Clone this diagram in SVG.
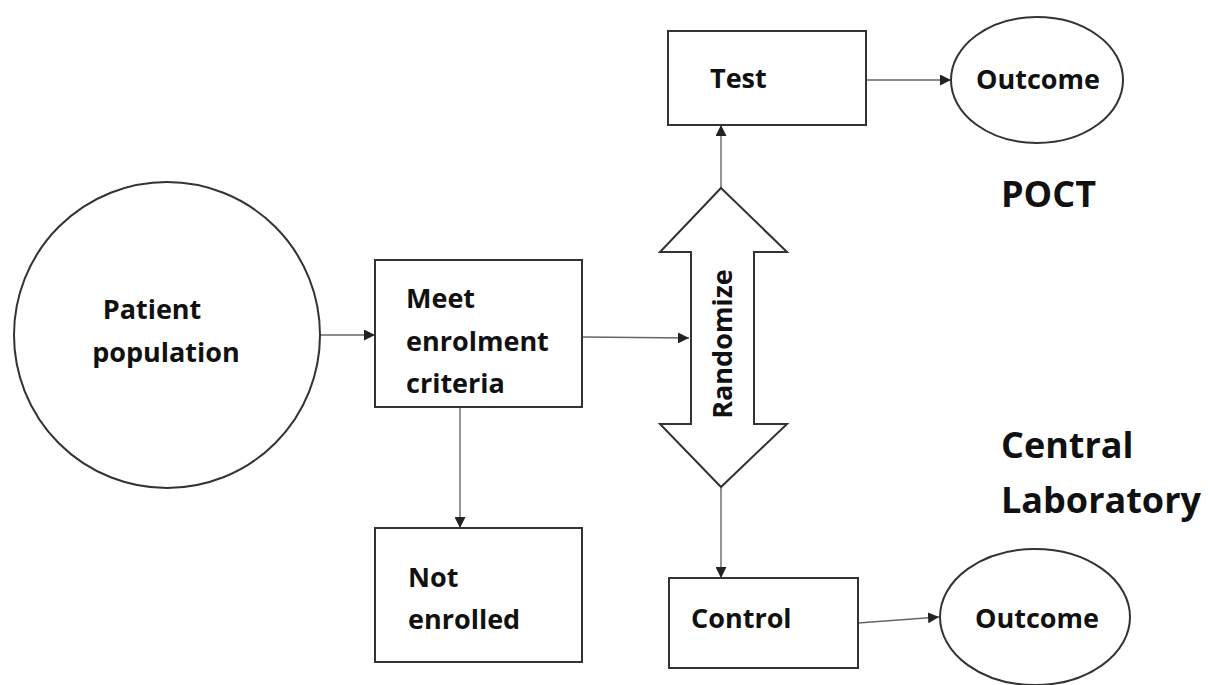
<svg xmlns="http://www.w3.org/2000/svg" width="1210" height="685" viewBox="0 0 1210 685">
  <defs>
    <marker id="arrow" viewBox="0 0 10 10" refX="10" refY="5" markerWidth="11" markerHeight="11" markerUnits="userSpaceOnUse" orient="auto">
      <path d="M0,0 L10,5 L0,10 z" fill="#222"/>
    </marker>
    <style>
      .shape { fill: #fff; stroke: #333; stroke-width: 2; }
      .conn { fill: none; stroke: #666; stroke-width: 1.4; marker-end: url(#arrow); }
      .lbl { font-family: "Open Sans", Lato, sans-serif; font-weight: 700; font-size: 27px; fill: #111; }
      .big { font-family: "Open Sans", Lato, sans-serif; font-weight: 700; font-size: 36px; fill: #111; }
    </style>
  </defs>
  <rect width="1210" height="685" fill="#fff"/>

  <g id="connectors">
    <line class="conn" x1="320" y1="335" x2="375" y2="335"/>
    <line class="conn" x1="582" y1="337" x2="689" y2="338"/>
    <line class="conn" x1="460" y1="407" x2="460" y2="528"/>
    <line class="conn" x1="721" y1="188" x2="721" y2="125"/>
    <line class="conn" x1="721" y1="487" x2="721" y2="578"/>
    <line class="conn" x1="866" y1="80" x2="951" y2="80"/>
    <line class="conn" x1="858" y1="623" x2="939" y2="617"/>
  </g>

  <g id="patient-population">
    <circle class="shape" cx="167" cy="335" r="153"/>
    <text class="lbl" x="152" y="319" text-anchor="middle">Patient</text>
    <text class="lbl" x="166" y="362" text-anchor="middle">population</text>
  </g>

  <g id="meet-criteria">
    <rect class="shape" x="375" y="260" width="207" height="147"/>
    <text class="lbl" x="406" y="308">Meet</text>
    <text class="lbl" x="406" y="351">enrolment</text>
    <text class="lbl" x="406" y="393">criteria</text>
  </g>

  <g id="randomize">
    <path class="shape" d="M721,188 L787,252 L754,252 L754,424 L787,424 L721,487 L660,424 L691,424 L691,252 L660,252 Z"/>
    <text class="lbl" transform="translate(732,344) rotate(-90)" text-anchor="middle">Randomize</text>
  </g>

  <g id="test">
    <rect class="shape" x="668" y="31" width="198" height="94"/>
    <text class="lbl" x="710" y="88">Test</text>
  </g>

  <g id="outcome-test">
    <ellipse class="shape" cx="1037" cy="80" rx="86" ry="63"/>
    <text class="lbl" x="1038" y="89" text-anchor="middle">Outcome</text>
  </g>

  <g id="not-enrolled">
    <rect class="shape" x="375" y="528" width="207" height="134"/>
    <text class="lbl" x="408" y="587">Not</text>
    <text class="lbl" x="408" y="629">enrolled</text>
  </g>

  <g id="control">
    <rect class="shape" x="669" y="578" width="189" height="90"/>
    <text class="lbl" x="691" y="628">Control</text>
  </g>

  <g id="outcome-control">
    <ellipse class="shape" cx="1035" cy="617" rx="95" ry="68"/>
    <text class="lbl" x="1037" y="628" text-anchor="middle">Outcome</text>
  </g>

  <g id="labels">
    <text class="big" x="1001" y="207">POCT</text>
    <text class="big" x="1001" y="458">Central</text>
    <text class="big" x="1001" y="513">Laboratory</text>
  </g>
</svg>
